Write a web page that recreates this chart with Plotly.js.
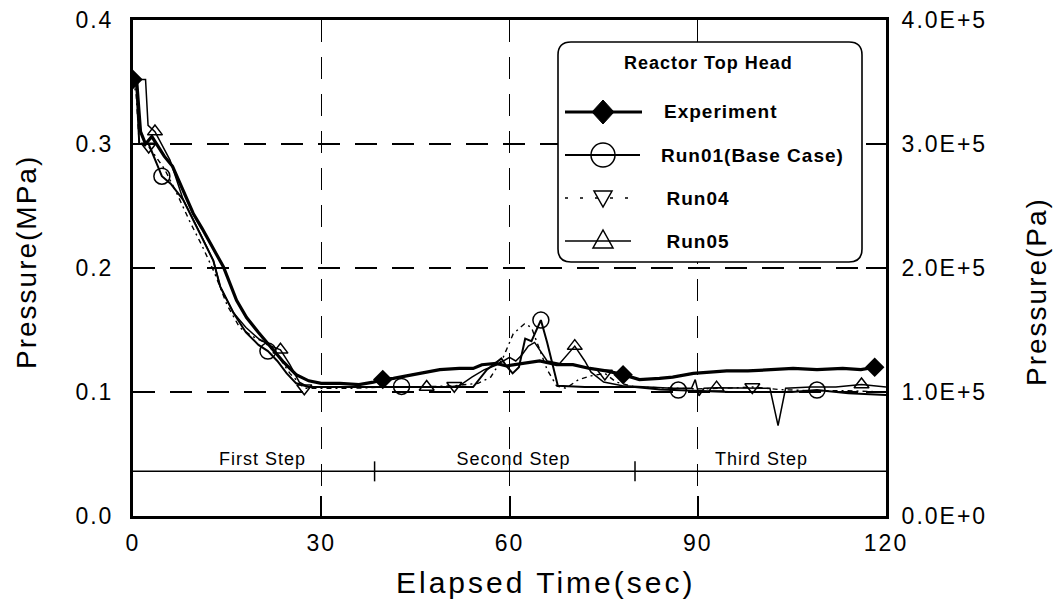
<!DOCTYPE html>
<html><head><meta charset="utf-8">
<script src="https://cdn.plot.ly/plotly-3.0.1.min.js"></script>
<style>
html,body{margin:0;padding:0;background:#fff;}
#chart{width:1060px;height:608px;}
.main-svg text{letter-spacing:1px;}
.main-svg .xtick text, .main-svg .ytick text, .main-svg .y2tick text{letter-spacing:2px;}
</style></head><body><div id="chart"></div>
<script>
// ---------------- data ----------------
const seriesNames = ['Experiment','Run01(Base Case)','Run04','Run05'];
const legendTitle = 'Reactor Top Head';
const stepNames = ['First Step','Second Step','Third Step'];
const stepCentersT = [20.6, 60.6, 100.2];
const stepDividersT = [38.5, 80];
const stepLevel = 0.036;

const xTickVals = [0,30,60,90,120];
const xTickText = ['0','30','60','90','120'];
const yLeftVals = [0,0.1,0.2,0.3,0.4];
const yLeftText = ['0.0','0.1','0.2','0.3','0.4'];
const yRightVals = [0,1e5,2e5,3e5,4e5];
const yRightText = ['0.0E+0','1.0E+5','2.0E+5','3.0E+5','4.0E+5'];
const MPA_TO_PA = 1e6;

const expT = [0,0.6,1.2,2,3,4,5,6.3,8,9.6,11,12.3,14.4,16.5,18.1,20,22,24,26,28,30,33,36,38.3,39.8,41.5,43.6,46,48.9,52,54.2,55.6,57.9,59.5,62.2,64.8,67.5,70.1,72.8,75.4,78.1,80.7,83.9,86,89.3,92,94.6,98,101,105.2,109,113.1,116,118.2];
const expP = [0.352,0.350,0.310,0.300,0.306,0.298,0.290,0.282,0.262,0.244,0.232,0.220,0.201,0.174,0.160,0.148,0.136,0.124,0.114,0.109,0.107,0.107,0.106,0.108,0.110,0.111,0.113,0.115,0.118,0.119,0.119,0.122,0.123,0.121,0.123,0.125,0.122,0.122,0.119,0.117,0.114,0.110,0.111,0.112,0.115,0.116,0.117,0.117,0.118,0.119,0.118,0.119,0.118,0.120];
const expMarkT = [0,39.8,78.1,118.2];
const expMarkP = [0.352,0.110,0.114,0.120];

const run01T = [0,0.5,1,2.5,4.6,6,8,10.7,12.8,13.9,16,18,20,21.5,23,24.5,26,28,33,38,42.8,47,52,54.2,56.4,58.7,59.5,60.5,61.5,62.5,63.5,65,66,67.7,72,76,80,84,86.9,90,95,100,105,109,114,120];
const run01P = [0.352,0.350,0.300,0.300,0.274,0.268,0.255,0.228,0.206,0.185,0.164,0.148,0.138,0.133,0.125,0.115,0.107,0.104,0.104,0.104,0.1045,0.104,0.104,0.104,0.118,0.127,0.121,0.115,0.120,0.143,0.141,0.158,0.140,0.105,0.104,0.104,0.104,0.102,0.1016,0.101,0.100,0.100,0.100,0.1016,0.099,0.0976];
const run01MarkT = [4.6,21.5,42.8,65,86.9,109];
const run01MarkP = [0.274,0.133,0.1045,0.158,0.1016,0.1016];

const run04T = [0,0.5,1,2.5,5,7,9,11,13,15,17,19,21,23,25,27.3,30,35,40,45,51.2,55,57,59,60.6,62.4,63.5,64.8,66,67.5,69,71,73,75.2,77,80,85,90,94,98.7,103,108,114,120];
const run04P = [0.352,0.340,0.300,0.298,0.280,0.260,0.238,0.218,0.196,0.170,0.152,0.145,0.140,0.130,0.115,0.103,0.103,0.103,0.104,0.104,0.105,0.107,0.112,0.128,0.147,0.155,0.152,0.134,0.118,0.105,0.103,0.110,0.113,0.115,0.108,0.104,0.103,0.1025,0.103,0.104,0.102,0.101,0.101,0.100];
const run04MarkT = [2.5,27.3,51.2,75.2,98.7];
const run04MarkP = [0.298,0.103,0.105,0.115,0.104];

const run05T = [0,2,2.4,3.5,5.9,8,10.7,12.8,13.9,16,18,20,22,23.5,25,26.5,28,33,40,46.8,50,52,54,56,58,60,61,62,63,64,66,68,70.4,72,73,75,78,82,86,89,89.6,90.2,91,93,97,101.5,102.8,104,108,112,116.1,120];
const run05P = [0.352,0.352,0.315,0.310,0.287,0.255,0.228,0.206,0.185,0.164,0.152,0.143,0.137,0.134,0.122,0.108,0.104,0.104,0.104,0.104,0.104,0.105,0.112,0.118,0.122,0.128,0.125,0.130,0.137,0.140,0.125,0.123,0.137,0.125,0.116,0.108,0.105,0.104,0.103,0.103,0.110,0.097,0.103,0.1035,0.103,0.103,0.073,0.103,0.104,0.104,0.106,0.104];
const run05MarkT = [3.5,23.5,46.8,70.4,93,116.1];
const run05MarkP = [0.310,0.134,0.104,0.137,0.1035,0.106];

// ---------------- drawing ----------------
const FONT = '"Liberation Sans", Arial, Helvetica, sans-serif';
const K = 'black';
const L=133, R=886, T=20, B=516, W=R-L, H=B-T;
const px = X => (X-L)/W;
const py = Y => (B-Y)/H;

const traces = [
  {x:run04T, y:run04P, mode:'lines', line:{color:K,width:1.4,dash:'5px,4px,2px,4px'}, name:seriesNames[2]},
  {x:run05T, y:run05P, mode:'lines', line:{color:K,width:1.5}, name:seriesNames[3]},
  {x:run01T, y:run01P, mode:'lines', line:{color:K,width:2}, name:seriesNames[1]},
  {x:expT, y:expP, mode:'lines', line:{color:K,width:3.2}, name:seriesNames[0]},
  {x:run04MarkT, y:run04MarkP, mode:'markers', marker:{symbol:'triangle-down-open',size:13,color:K,line:{width:1.5,color:K}}, name:seriesNames[2]},
  {x:run05MarkT, y:run05MarkP, mode:'markers', marker:{symbol:'triangle-up-open',size:13,color:K,line:{width:1.5,color:K}}, name:seriesNames[3]},
  {x:run01MarkT, y:run01MarkP, mode:'markers', marker:{symbol:'circle-open',size:16,color:K,line:{width:1.5,color:K}}, name:seriesNames[1]},
  {x:expMarkT, y:expMarkP, mode:'markers', marker:{symbol:'diamond',size:15,color:K,line:{width:0}}, name:seriesNames[0]},
  // same experiment in Pa on the right-hand axis (invisible, keeps the Pa axis drawn)
  {x:expT, y:expP.map(v=>v*MPA_TO_PA), yaxis:'y2', mode:'lines', line:{color:'rgba(0,0,0,0)',width:0}, hoverinfo:'skip', name:seriesNames[0]+' (Pa)'}
];

const shapes = [];
const annotations = [];

// step line + dividers + labels
shapes.push({type:'line', xref:'paper', yref:'y', x0:0, x1:1, y0:stepLevel, y1:stepLevel, line:{color:K,width:1.5}, layer:'below'});
stepDividersT.forEach(t => shapes.push({type:'line', xref:'x', yref:'y', ysizemode:'pixel', yanchor:stepLevel, x0:t, x1:t, y0:-10, y1:10, line:{color:K,width:1.5}}));
stepNames.forEach((s,i) => annotations.push({text:s, x:stepCentersT[i], y:stepLevel, xref:'x', yref:'y', xanchor:'center', yanchor:'bottom', yshift:0, showarrow:false, font:{family:FONT,size:18,color:K}}));

// legend box (rounded)
(function(){
  const x0=px(558), x1=px(862), y0=py(262), y1=py(42);
  const rx=13/W, ry=13/H;
  const path = `M ${x0+rx},${y1} L ${x1-rx},${y1} Q ${x1},${y1} ${x1},${y1-ry} L ${x1},${y0+ry} Q ${x1},${y0} ${x1-rx},${y0} L ${x0+rx},${y0} Q ${x0},${y0} ${x0},${y0+ry} L ${x0},${y1-ry} Q ${x0},${y1} ${x0+rx},${y1} Z`;
  shapes.push({type:'path', xref:'paper', yref:'paper', path, fillcolor:'white', line:{color:K,width:1.6}, layer:'above'});
  annotations.push({text:legendTitle, x:px(708), y:py(63), xref:'paper', yref:'paper', xanchor:'center', yanchor:'middle', showarrow:false, font:{family:FONT,size:18,color:K,weight:700}});
  const rows=[112,155,198,241];
  const lx0=565, lx1=642, mx=603;
  shapes.push({type:'line', xref:'paper', yref:'paper', x0:px(lx0), x1:px(lx1), y0:py(rows[0]), y1:py(rows[0]), line:{color:K,width:3}, layer:'above'});
  shapes.push({type:'path', xref:'paper', yref:'paper', path:`M ${px(mx-11)},${py(rows[0])} L ${px(mx)},${py(rows[0]-12)} L ${px(mx+11)},${py(rows[0])} L ${px(mx)},${py(rows[0]+12)} Z`, fillcolor:K, line:{color:K,width:1}, layer:'above'});
  shapes.push({type:'line', xref:'paper', yref:'paper', x0:px(lx0), x1:px(640), y0:py(rows[1]), y1:py(rows[1]), line:{color:K,width:1.8}, layer:'above'});
  shapes.push({type:'circle', xref:'paper', yref:'paper', x0:px(mx-12), x1:px(mx+12), y0:py(rows[1]+12), y1:py(rows[1]-12), fillcolor:'rgba(0,0,0,0)', line:{color:K,width:1.5}, layer:'above'});
  shapes.push({type:'line', xref:'paper', yref:'paper', x0:px(lx0), x1:px(628), y0:py(rows[2]), y1:py(rows[2]), line:{color:K,width:1.4,dash:'3px,12px'}, layer:'above'});
  shapes.push({type:'path', xref:'paper', yref:'paper', path:`M ${px(mx-9)},${py(rows[2]-7)} L ${px(mx+9)},${py(rows[2]-7)} L ${px(mx)},${py(rows[2]+9)} Z`, fillcolor:'white', line:{color:K,width:1.5}, layer:'above'});
  shapes.push({type:'line', xref:'paper', yref:'paper', x0:px(lx0), x1:px(631), y0:py(rows[3]), y1:py(rows[3]), line:{color:K,width:1.5}, layer:'above'});
  shapes.push({type:'path', xref:'paper', yref:'paper', path:`M ${px(mx-10)},${py(rows[3]+7)} L ${px(mx+10)},${py(rows[3]+7)} L ${px(mx)},${py(rows[3]-11)} Z`, fillcolor:'rgba(0,0,0,0)', line:{color:K,width:1.5}, layer:'above'});
  seriesNames.forEach((s,i) => annotations.push({text:s, x:px(667), y:py(rows[i]), xref:'paper', yref:'paper', xanchor:'left', yanchor:'middle', showarrow:false, font:{family:FONT,size:19,color:K,weight:700}}));
})();

// axis titles
annotations.push({text:'<span style="letter-spacing:3px">Elapsed Time(sec)</span>', x:px(545), y:py(582), xref:'paper', yref:'paper', xanchor:'center', yanchor:'middle', showarrow:false, font:{family:FONT,size:30,color:K}});
annotations.push({text:'<span style="letter-spacing:2px">Pressure(MPa)</span>', x:px(26), y:py(262), xref:'paper', yref:'paper', xanchor:'center', yanchor:'middle', textangle:-90, showarrow:false, font:{family:FONT,size:28,color:K}});
annotations.push({text:'<span style="letter-spacing:2px">Pressure(Pa)</span>', x:px(1036), y:py(292), xref:'paper', yref:'paper', xanchor:'center', yanchor:'middle', textangle:-90, showarrow:false, font:{family:FONT,size:28,color:K}});

const gridCommon = {showgrid:true, gridcolor:K, gridwidth:1.4, griddash:'22px,15px'};
const tickFont = {family:FONT,size:23,color:K};
const layout = {
  width:1060, height:608,
  margin:{l:L, r:1060-R, t:T, b:608-B, pad:0},
  paper_bgcolor:'white', plot_bgcolor:'white',
  showlegend:false,
  font:{family:FONT, color:K},
  xaxis:Object.assign({range:[0,120], tickmode:'array', tickvals:xTickVals, ticktext:xTickText,
    showline:true, linewidth:3, linecolor:K, mirror:true, ticks:'inside', ticklen:20, tickwidth:2, tickcolor:K,
    zeroline:false, tickfont:tickFont, ticklabelstandoff:4}, gridCommon),
  yaxis:Object.assign({range:[0,0.4], tickmode:'array', tickvals:yLeftVals, ticktext:yLeftText,
    showline:true, linewidth:3, linecolor:K, ticks:'inside', ticklen:20, tickwidth:2, tickcolor:K,
    zeroline:false, tickfont:tickFont, ticklabelstandoff:12}, gridCommon),
  yaxis2:{overlaying:'y', side:'right', range:[0,4e5], tickmode:'array', tickvals:yRightVals, ticktext:yRightText,
    showline:true, linewidth:3, linecolor:K, ticks:'inside', ticklen:20, tickwidth:2, tickcolor:K,
    showgrid:false, zeroline:false, tickfont:tickFont, ticklabelstandoff:8},
  shapes, annotations
};

Plotly.newPlot('chart', traces, layout, {displayModeBar:false, staticPlot:true});
</script></body></html>
